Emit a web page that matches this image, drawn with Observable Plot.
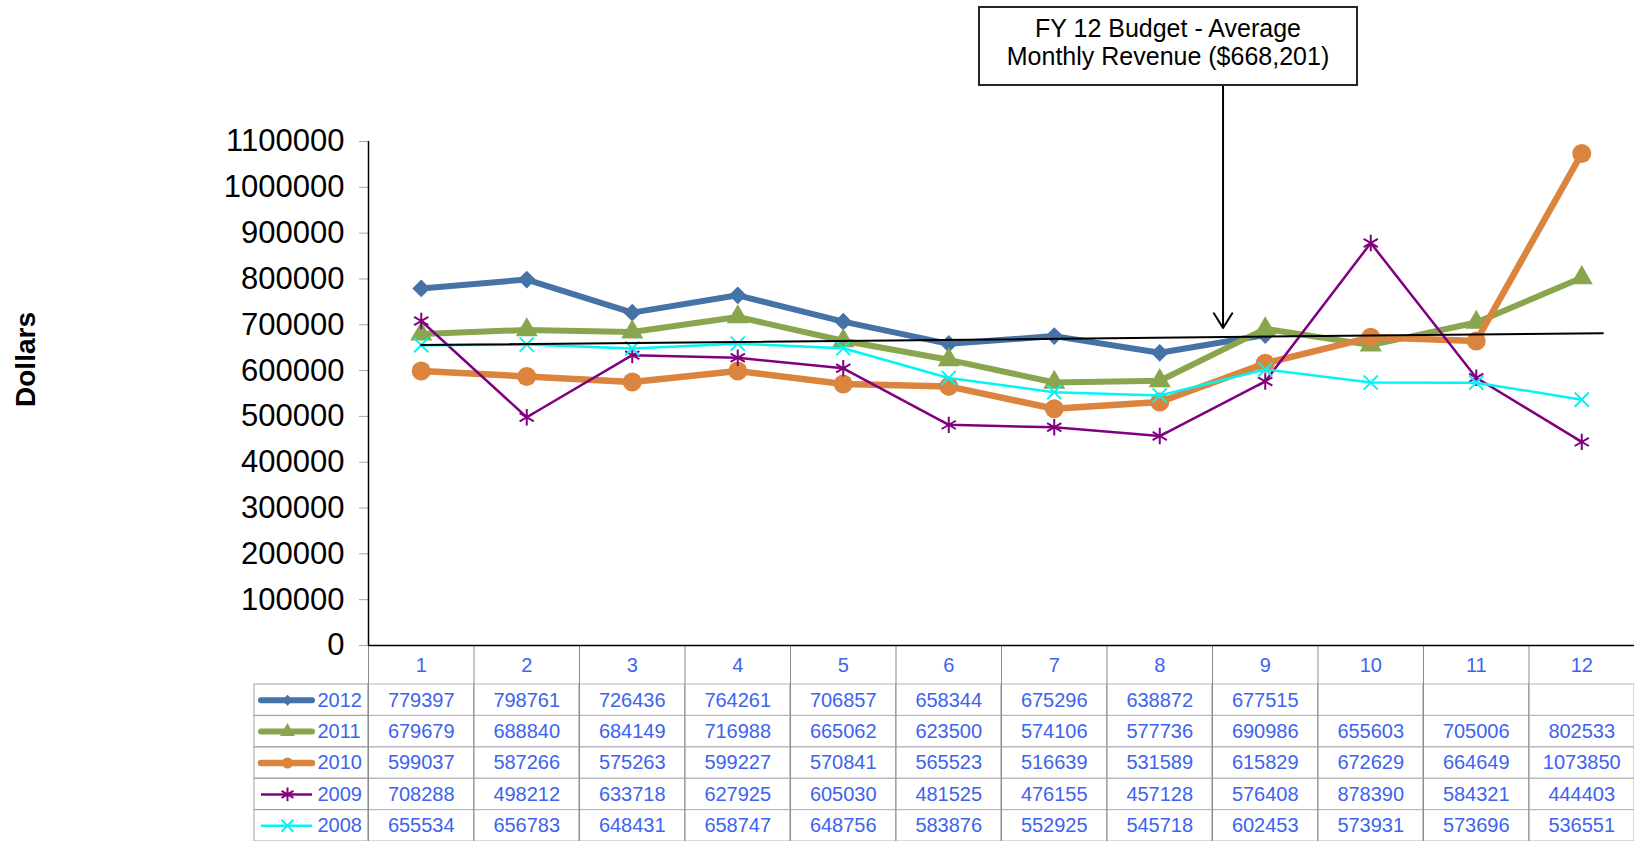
<!DOCTYPE html>
<html>
<head>
<meta charset="utf-8">
<script src="https://cdn.jsdelivr.net/npm/d3@7"></script>
<script src="https://cdn.jsdelivr.net/npm/@observablehq/plot@0.6"></script>
<style>
  html, body { margin: 0; padding: 0; background: #fff; overflow: hidden; }
  #wrap { position: relative; width: 1634px; height: 841px; font-family: "Liberation Sans", Arial, sans-serif; }
  #table { position: absolute; left: 0; top: 645px; z-index: 1; }
  #chart { position: absolute; left: 0; top: 0; z-index: 2; }
  #note { position: absolute; z-index: 3; left: 978px; top: 6px; width: 380px; height: 80px; box-sizing: border-box;
          border: 2px solid #262626; background: #fff; text-align: center; font-size: 25px; line-height: 28px;
          padding-top: 6px; color: #000; }
</style>
</head>
<body>
<div id="wrap">
  <div id="table"></div>
  <div id="chart"></div>
  <div id="note">FY 12 Budget - Average<br>Monthly Revenue ($668,201)</div>
</div>
<script>
// ---------------- data ----------------
const months = [1, 2, 3, 4, 5, 6, 7, 8, 9, 10, 11, 12];
const years = ["2012", "2011", "2010", "2009", "2008"];
const v2012 = [779397, 798761, 726436, 764261, 706857, 658344, 675296, 638872, 677515, null, null, null];
const v2011 = [679679, 688840, 684149, 716988, 665062, 623500, 574106, 577736, 690986, 655603, 705006, 802533];
const v2010 = [599037, 587266, 575263, 599227, 570841, 565523, 516639, 531589, 615829, 672629, 664649, 1073850];
const v2009 = [708288, 498212, 633718, 627925, 605030, 481525, 476155, 457128, 576408, 878390, 584321, 444403];
const v2008 = [655534, 656783, 648431, 658747, 648756, 583876, 552925, 545718, 602453, 573931, 573696, 536551];
const yTicks = [0, 100000, 200000, 300000, 400000, 500000, 600000, 700000, 800000, 900000, 1000000, 1100000];
// budget trend line
const trendMonth = [1, 12.2];
const trendValue = [655600, 681400];
// annotation arrow (month position, top and tip values)
const annoMonth = 8.6;
const annoTop = 1222000;
const annoTip = 693000;

// ---------------- styles / layout ----------------
const FONT = "'Liberation Sans', Arial, sans-serif";
const BLUE = "#3D63F0";
const W = 1634, PLOT_L = 368, PLOT_R = 1634;
const colW = (PLOT_R - PLOT_L) / months.length;
const px2x = p => 0.5 + (p - PLOT_L) / colW;

const values = {"2012": v2012, "2011": v2011, "2010": v2010, "2009": v2009, "2008": v2008};
const styles = {
  "2012": {color: "#4572A7", lw: 6, symbol: "diamond2", r: 8, lr: 5, filled: true},
  "2011": {color: "#89A54E", lw: 6, symbol: "triangle", r: 8.2, lr: 5.5, filled: true},
  "2010": {color: "#DB843D", lw: 6.5, symbol: "circle", r: 9.5, lr: 5.5, filled: true},
  "2009": {color: "#800080", lw: 2.5, symbol: "asterisk", r: 7.8, lr: 6.5, filled: false},
  "2008": {color: "#00F5F5", lw: 2.5, symbol: "times", r: 6.5, lr: 5.5, filled: false}
};
const symStyle = (s) => s.filled ? {fill: s.color, stroke: "none"} : {fill: "none", stroke: s.color, strokeWidth: 2};

// ---------------- main chart ----------------
const marks = [
  Plot.axisY({ticks: yTicks, tickFormat: d => String(d), tickSize: 9, tickPadding: 15, fontSize: 31,
              color: "#000", stroke: "#a6a6a6", label: null}),
  Plot.text(["Dollars"], {frameAnchor: "left", textAnchor: "middle", lineAnchor: "middle", dx: -342, dy: -34, rotate: -90,
              fontWeight: "bold", fontSize: 28, fill: "#000"})
];
years.forEach(yr => {
  const s = styles[yr];
  const pts = months.map((m, j) => ({m, v: values[yr][j]})).filter(d => d.v != null);
  marks.push(Plot.line(pts, {x: "m", y: "v", stroke: s.color, strokeWidth: s.lw, strokeLinejoin: "round", strokeLinecap: "round"}));
  marks.push(Plot.dot(pts, {x: "m", y: "v", symbol: s.symbol, r: s.r, ...symStyle(s)}));
});
marks.push(Plot.line(trendMonth.map((m, i) => ({m, v: trendValue[i]})), {x: "m", y: "v", stroke: "#000", strokeWidth: 2}));
marks.push(Plot.arrow([{m: annoMonth}], {x1: "m", x2: "m", y1: () => annoTop, y2: () => annoTip, stroke: "#000",
  strokeWidth: 2, headLength: 13, headAngle: 64}));
marks.push(Plot.ruleX([0.5], {stroke: "#000", strokeWidth: 1.5}));
marks.push(Plot.ruleY([0], {stroke: "#000", strokeWidth: 1.5}));

const chart = Plot.plot({
  width: W, height: 680,
  marginLeft: PLOT_L, marginRight: W - PLOT_R, marginTop: 141, marginBottom: 35,
  style: {background: "transparent", fontFamily: FONT, overflow: "visible"},
  x: {domain: [0.5, 12.5], axis: null},
  y: {domain: [0, 1100000], axis: null},
  marks
});
document.getElementById("chart").appendChild(chart);

// ---------------- data table ----------------
const cells = [], tableVals = [];
years.forEach((yr, i) => values[yr].forEach((v, j) => {
  cells.push({row: i, m: months[j]});
  if (v != null) tableVals.push({row: i, m: months[j], v});
}));
const legX0 = px2x(254);
const tmarks = [
  Plot.rect(cells, {x1: d => d.m - 0.5, x2: d => d.m + 0.5, y1: d => d.row - 0.5, y2: d => d.row + 0.5, fill: "none", stroke: "#b5b5b5"}),
  Plot.rect(years, {x1: legX0, x2: 0.5, y1: (d, i) => i - 0.5, y2: (d, i) => i + 0.5, fill: "none", stroke: "#a0a0a0"}),
  Plot.ruleX(months, {x: d => d - 0.5, insetTop: -39, stroke: "#8c8c8c"}),
  Plot.text(months, {x: d => d, frameAnchor: "top", lineAnchor: "middle", dy: -19, text: d => String(d), fill: BLUE, fontSize: 20}),
  Plot.text(tableVals, {x: "m", y: "row", text: d => String(d.v), fill: BLUE, fontSize: 20})
];
years.forEach((yr, i) => {
  const s = styles[yr];
  tmarks.push(Plot.ruleY([i], {y: d => d, x1: px2x(261), x2: px2x(312), stroke: s.color, strokeWidth: s.lw, strokeLinecap: s.filled ? "round" : "butt"}));
  tmarks.push(Plot.dot([i], {x: px2x(287), y: d => d, symbol: s.symbol, r: s.lr, ...symStyle(s)}));
});
tmarks.push(Plot.text(years, {x: px2x(317), y: (d, i) => i, text: d => d, textAnchor: "start", fill: BLUE, fontSize: 20}));

const table = Plot.plot({
  width: W, height: 196,
  marginLeft: PLOT_L, marginRight: W - PLOT_R, marginTop: 39, marginBottom: 0,
  style: {background: "transparent", fontFamily: FONT, overflow: "visible"},
  x: {domain: [0.5, 12.5], axis: null},
  y: {domain: [years.length - 0.5, -0.5], axis: null},
  marks: tmarks
});
document.getElementById("table").appendChild(table);
</script>
</body>
</html>
